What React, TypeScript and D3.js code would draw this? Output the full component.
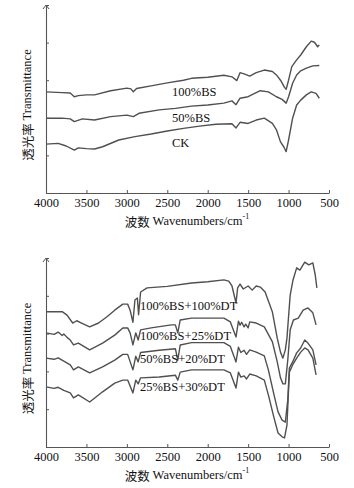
import React, { useEffect, useRef } from "react";
import * as d3 from "d3";

const W = 354;
const H = 488;
const FONT = "'Liberation Serif', 'Times New Roman', serif";
const CJK = "'Noto Sans CJK SC', sans-serif";
const LINE = "#505050";

const xTicks = [4000, 3500, 3000, 2500, 2000, 1500, 1000, 500];
const yTicks = [0, 1, 2, 3, 4, 5];

// top panel: BS only
const bs100Wn = [4000, 3800, 3700, 3650, 3600, 3500, 3400, 3200, 3000, 2950, 2920, 2880, 2700, 2500, 2300, 2200, 2000, 1800, 1700, 1640, 1600, 1550, 1480, 1400, 1300, 1200, 1150, 1100, 1050, 1030, 1000, 960, 900, 850, 780, 720, 680, 640, 620];
const bs100T = [2.69, 2.67, 2.66, 2.56, 2.59, 2.61, 2.61, 2.72, 2.79, 2.77, 2.69, 2.78, 2.85, 2.93, 3.0, 3.05, 3.08, 3.13, 3.09, 2.99, 3.2, 3.17, 3.11, 3.2, 3.27, 3.23, 3.14, 3.0, 2.81, 2.76, 3.0, 3.36, 3.54, 3.67, 3.89, 4.04, 4.01, 3.89, 3.94];

const bs50Wn = [4000, 3800, 3700, 3650, 3550, 3400, 3200, 3000, 2920, 2850, 2600, 2400, 2200, 2000, 1800, 1700, 1650, 1600, 1500, 1350, 1250, 1150, 1080, 1050, 1030, 1000, 950, 900, 850, 780, 700, 620];
const bs50T = [1.99, 1.99, 1.97, 1.9, 1.97, 1.94, 2.03, 2.07, 2.03, 2.12, 2.21, 2.25, 2.31, 2.34, 2.39, 2.45, 2.35, 2.52, 2.56, 2.72, 2.69, 2.56, 2.49, 2.43, 2.39, 2.56, 2.92, 3.14, 3.25, 3.32, 3.38, 3.39];

const ckWn = [4000, 3850, 3750, 3650, 3600, 3500, 3400, 3300, 3100, 2900, 2700, 2500, 2300, 2100, 1900, 1700, 1650, 1600, 1500, 1400, 1300, 1200, 1150, 1100, 1060, 1030, 1000, 950, 900, 850, 780, 720, 660, 620];
const ckT = [1.3, 1.32, 1.25, 1.14, 1.2, 1.18, 1.17, 1.23, 1.41, 1.5, 1.57, 1.65, 1.72, 1.78, 1.83, 1.84, 1.73, 1.88, 1.85, 1.94, 1.99, 1.85, 1.68, 1.36, 1.23, 1.1, 1.41, 1.99, 2.34, 2.47, 2.61, 2.69, 2.65, 2.52];

// bottom panel: BS + DT
const dt100Wn = [4000, 3800, 3740, 3670, 3620, 3560, 3460, 3350, 3250, 3150, 3050, 2990, 2960, 2925, 2900, 2870, 2855, 2830, 2750, 2500, 2200, 2000, 1800, 1740, 1700, 1650, 1630, 1600, 1560, 1500, 1450, 1400, 1350, 1290, 1200, 1140, 1100, 1070, 1040, 1020, 980, 945, 900, 860, 800, 750, 700, 670, 650];
const dt100T = [3.58, 3.58, 3.49, 3.28, 3.34, 3.28, 3.18, 3.28, 3.44, 3.62, 3.78, 3.78, 3.62, 3.3, 3.89, 3.94, 3.5, 4.1, 4.21, 4.25, 4.34, 4.37, 4.42, 4.39, 4.26, 3.81, 4.21, 4.31, 4.18, 4.26, 4.15, 4.26, 4.23, 4.1, 3.57, 2.88, 2.51, 2.35, 2.57, 2.88, 4.02, 4.42, 4.74, 4.68, 4.89, 4.82, 4.87, 4.55, 4.21];

const dt25Wn = [4000, 3900, 3850, 3800, 3780, 3740, 3700, 3660, 3600, 3460, 3300, 3150, 3050, 2990, 2960, 2925, 2890, 2860, 2830, 2700, 2450, 2400, 2370, 2340, 2200, 2000, 1800, 1720, 1650, 1620, 1600, 1580, 1550, 1530, 1500, 1480, 1400, 1300, 1200, 1140, 1100, 1070, 1040, 1010, 980, 940, 880, 820, 760, 700, 660];
const dt25T = [3.02, 2.98, 3.04, 2.95, 2.99, 2.9, 2.83, 2.7, 2.75, 2.57, 2.75, 2.96, 3.15, 3.15, 3.02, 2.7, 3.02, 2.83, 3.1, 3.15, 3.23, 3.23, 3.02, 3.36, 3.41, 3.41, 3.41, 3.31, 2.91, 3.33, 3.22, 3.3, 3.18, 3.25, 3.15, 3.31, 3.28, 3.18, 2.78, 2.25, 1.83, 1.67, 1.67, 2.3, 3.1, 3.36, 3.41, 3.62, 3.68, 3.55, 3.23];

const dt20Wn = [4000, 3900, 3850, 3780, 3700, 3660, 3600, 3460, 3300, 3150, 3050, 2990, 2925, 2890, 2860, 2830, 2600, 2400, 2370, 2340, 2200, 1800, 1720, 1650, 1620, 1590, 1550, 1520, 1480, 1400, 1300, 1250, 1180, 1130, 1080, 1040, 1010, 990, 950, 900, 850, 800, 760, 700, 660];
const dt20T = [2.35, 2.32, 2.36, 2.27, 2.17, 2.04, 2.12, 1.96, 2.12, 2.3, 2.45, 2.45, 2.04, 2.4, 2.25, 2.5, 2.56, 2.6, 2.3, 2.7, 2.76, 2.76, 2.66, 2.25, 2.64, 2.5, 2.56, 2.45, 2.57, 2.51, 2.41, 2.04, 1.38, 0.93, 0.71, 0.66, 1.24, 2.09, 2.25, 2.49, 2.62, 2.83, 2.75, 2.57, 2.17];

const dt30Wn = [4000, 3900, 3850, 3780, 3700, 3660, 3600, 3460, 3300, 3150, 3050, 2990, 2925, 2890, 2860, 2830, 2600, 2400, 2370, 2340, 2200, 1800, 1720, 1650, 1620, 1590, 1550, 1520, 1480, 1400, 1300, 1250, 1180, 1130, 1080, 1050, 1020, 990, 950, 900, 850, 800, 760, 700, 660];
const dt30T = [1.59, 1.55, 1.58, 1.5, 1.43, 1.3, 1.38, 1.19, 1.46, 1.69, 1.77, 1.77, 1.43, 1.77, 1.67, 1.83, 1.85, 1.9, 1.77, 1.98, 2.04, 2.04, 1.96, 1.56, 1.98, 1.85, 1.88, 1.8, 1.93, 1.88, 1.77, 1.38, 0.77, 0.37, 0.27, 0.24, 0.58, 1.98, 2.17, 2.35, 2.51, 2.62, 2.57, 2.35, 1.91];

const topSeries = [
  { wn: bs100Wn, t: bs100T },
  { wn: bs50Wn, t: bs50T },
  { wn: ckWn, t: ckT },
];
const bottomSeries = [
  { wn: dt100Wn, t: dt100T },
  { wn: dt25Wn, t: dt25T },
  { wn: dt20Wn, t: dt20T },
  { wn: dt30Wn, t: dt30T },
];

const topLabels = [
  { text: "100%BS", wn: 2442, t: 2.69 },
  { text: "50%BS", wn: 2442, t: 2.0 },
  { text: "CK", wn: 2442, t: 1.33 },
];
const bottomLabels = [
  { text: "100%BS+100%DT", wn: 2838, t: 3.73 },
  { text: "100%BS+25%DT", wn: 2838, t: 2.94 },
  { text: "50%BS+20%DT", wn: 2838, t: 2.33 },
  { text: "25%BS+30%DT", wn: 2838, t: 1.59 },
];

type Series = { wn: number[]; t: number[] };
type Label = { text: string; wn: number; t: number };

const Panel = ({ y0, y1, series, labels }: { y0: number; y1: number; series: Series[]; labels: Label[] }) => {
  const axesRef = useRef(null);
  const x = d3.scaleLinear().domain([4000, 500]).range([46, 329]);
  const y = d3.scaleLinear().domain([0, 5]).range([y1, y0]);

  useEffect(() => {
    const g = d3.select(axesRef.current);
    g.selectAll("*").remove();
    const xa = g
      .append("g")
      .attr("transform", `translate(0,${y1})`)
      .call(
        d3.axisBottom(x).tickValues(xTicks).tickSize(-3).tickSizeOuter(0).tickPadding(5).tickFormat((d) => String(d))
      );
    const ya = g
      .append("g")
      .attr("transform", "translate(46,0)")
      .call(d3.axisLeft(y).tickValues(yTicks).tickSize(-3).tickSizeOuter(0).tickFormat(() => ""));
    [xa, ya].forEach((a) => {
      a.attr("font-family", FONT);
      a.select(".domain").attr("stroke", "#555").attr("stroke-width", 1.1);
      a.selectAll(".tick line").attr("stroke", "#555");
    });
    xa.selectAll(".tick text")
      .attr("font-family", FONT)
      .attr("font-size", 12.5)
      .attr("fill", "#111");
  }, [y0, y1]);

  const line = d3
    .line<[number, number]>()
    .x((d) => x(d[0]))
    .y((d) => y(d[1]));

  const mid = (y0 + y1) / 2;
  return (
    <g>
      {series.map((s, i) => (
        <path
          key={i}
          d={line(s.wn.map((w, j) => [w, s.t[j]] as [number, number])) || ""}
          fill="none"
          stroke={LINE}
          strokeWidth={1.4}
          strokeLinejoin="round"
        />
      ))}
      <g ref={axesRef} />
      <path d={`M43,${y0 + 4} L46,${y0} L49,${y0 + 4}`} fill="none" stroke="#555" strokeWidth={1} />
      {labels.map((l, i) => (
        <text
          key={i}
          x={x(l.wn)}
          y={y(l.t)}
          dominantBaseline="central"
          fontFamily={FONT}
          fontSize={12.5}
          fill="#111"
        >
          {l.text}
        </text>
      ))}
      <text x={187} y={y1 + 28} dominantBaseline="central" textAnchor="middle" fontSize={12.5} fill="#111">
        <tspan fontFamily={CJK}>波数 </tspan>
        <tspan fontFamily={FONT}>Wavenumbers/cm</tspan>
        <tspan fontFamily={FONT} fontSize={8} dy={-5}>-1</tspan>
      </text>
      <text
        transform={`translate(27,${mid + 6}) rotate(-90)`}
        textAnchor="middle"
        dominantBaseline="central"
        fontSize={12.5}
        fill="#111"
      >
        <tspan fontFamily={CJK}>透光率 </tspan>
        <tspan fontFamily={FONT}>Transmittance</tspan>
      </text>
    </g>
  );
};

export default function App() {
  return (
    <svg width={W} height={H} style={{ position: "absolute", left: 0, top: 0, background: "#fff" }}>
      <Panel y0={5} y1={193} series={topSeries} labels={topLabels} />
      <Panel y0={258} y1={447} series={bottomSeries} labels={bottomLabels} />
    </svg>
  );
}
